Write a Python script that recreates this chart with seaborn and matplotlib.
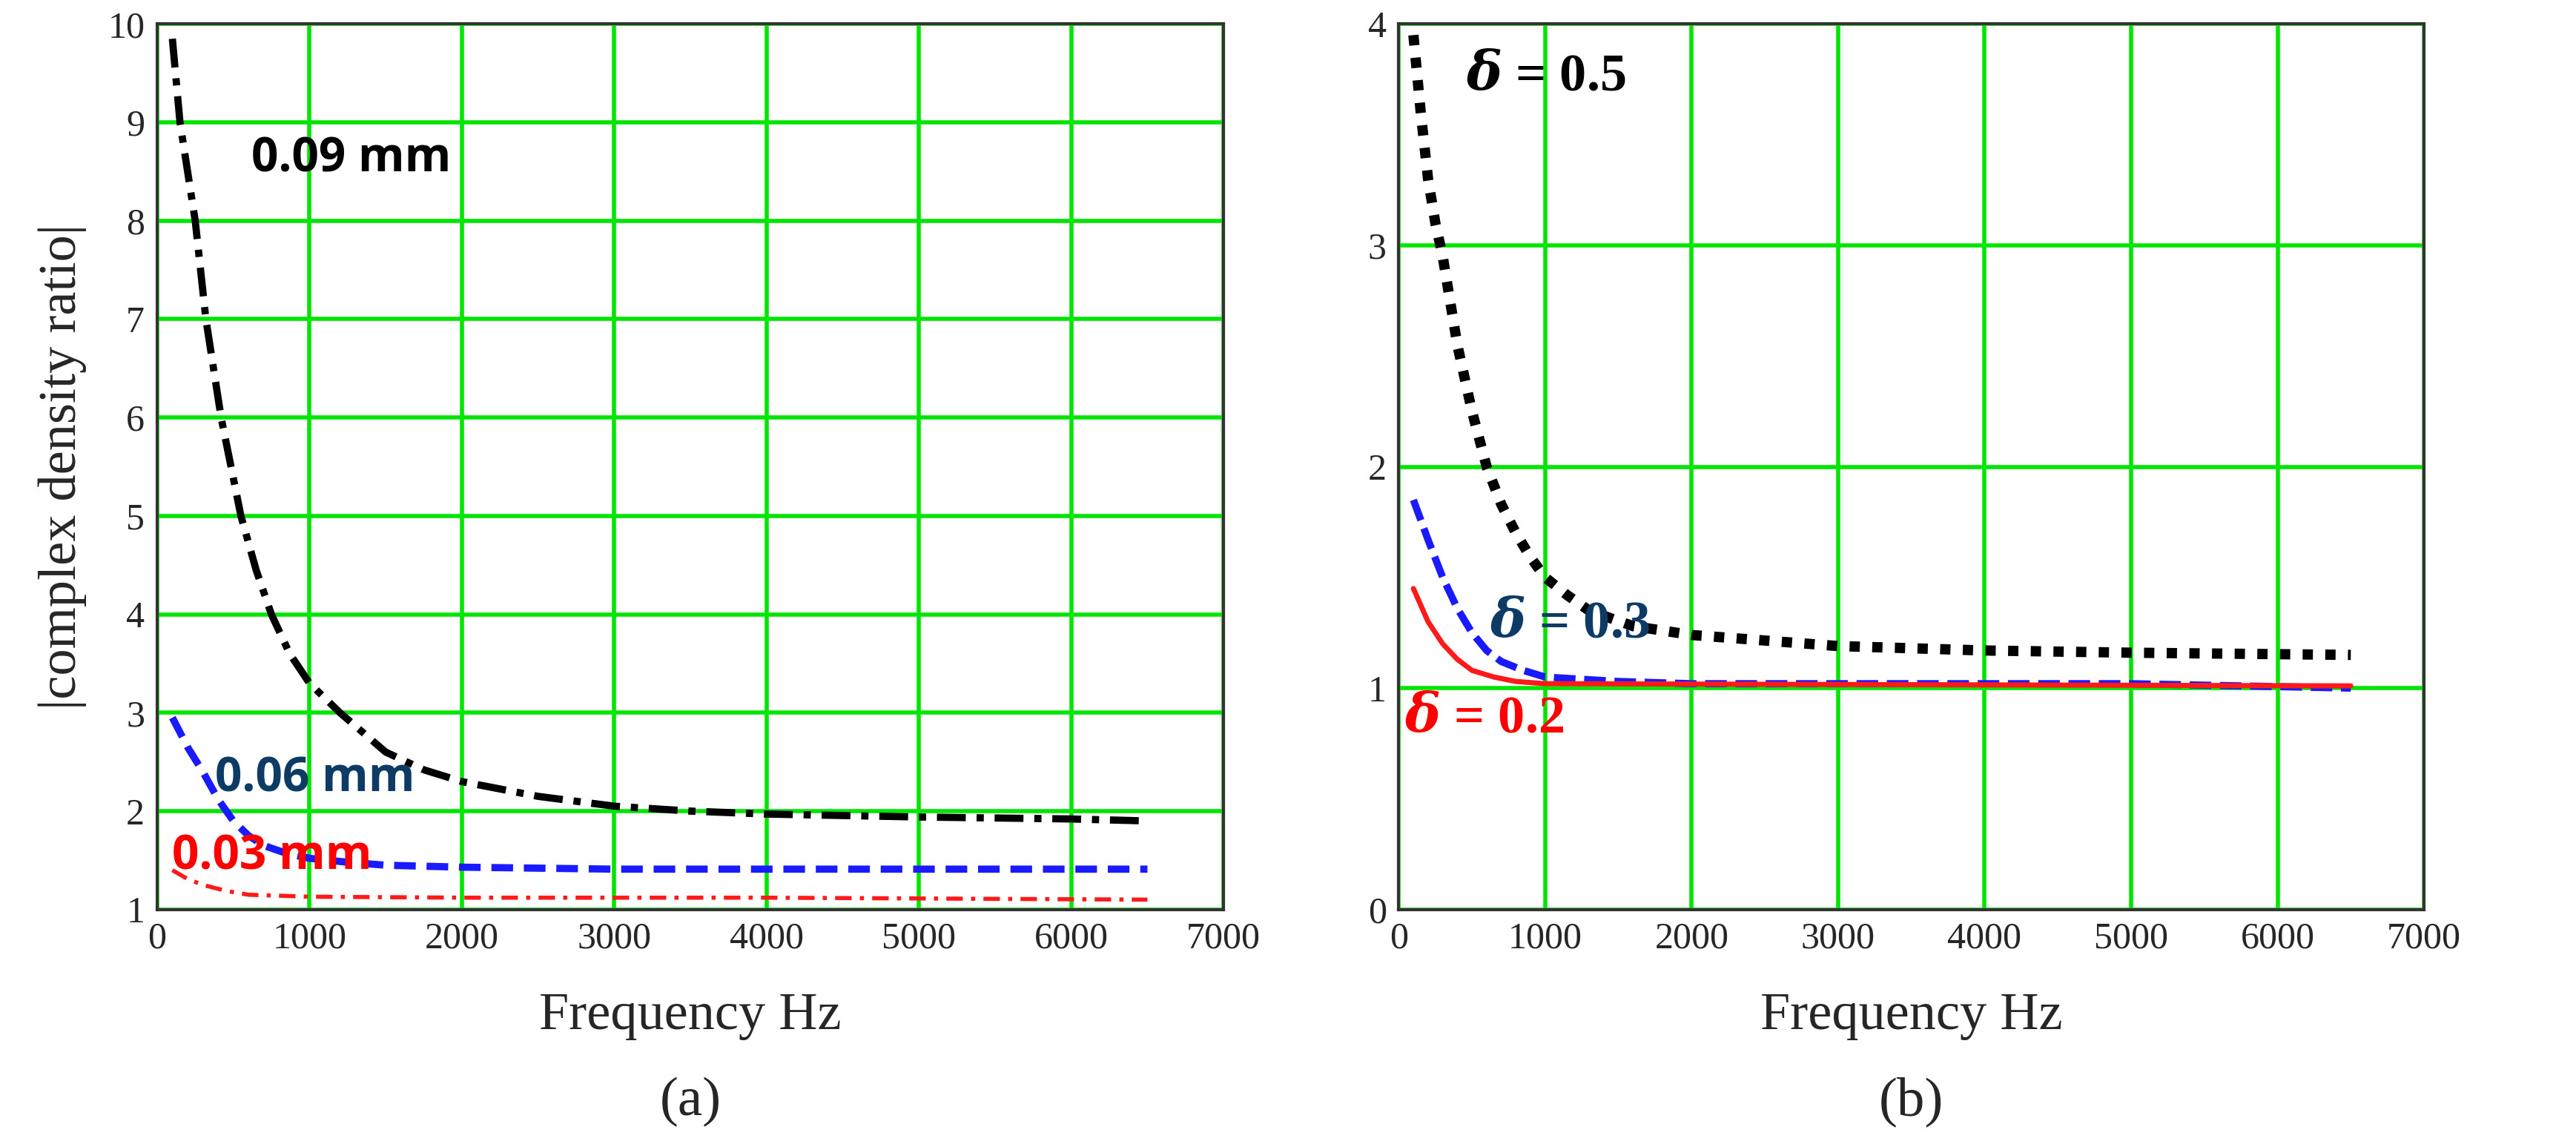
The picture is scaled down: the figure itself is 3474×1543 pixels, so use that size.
import matplotlib
matplotlib.use("Agg")
import matplotlib.pyplot as plt
import seaborn as sns

freq_a_black = [100, 150, 200, 250, 320, 420, 550, 650, 750, 870, 1000, 1200, 1500, 1750, 2000, 2500, 3000, 3500, 4000, 5000, 6000, 6500]
val_a_black = [9.85, 9.0, 8.5, 8.0, 7.0, 6.0, 5.0, 4.45, 4.0, 3.6, 3.3, 3.0, 2.6, 2.42, 2.3, 2.15, 2.05, 2.0, 1.97, 1.94, 1.92, 1.9]
freq_a_blue = [100, 200, 300, 400, 500, 600, 700, 850, 1000, 1250, 1500, 2000, 3000, 6500]
val_a_blue = [2.95, 2.65, 2.4, 2.12, 1.9, 1.75, 1.65, 1.57, 1.52, 1.48, 1.45, 1.43, 1.41, 1.41]
freq_a_red = [100, 200, 300, 450, 600, 800, 1000, 2000, 4000, 6500]
val_a_red = [1.4, 1.31, 1.25, 1.19, 1.15, 1.14, 1.13, 1.12, 1.12, 1.1]

freq_b_black = [100, 150, 200, 250, 300, 400, 500, 600, 700, 800, 900, 1000, 1150, 1300, 1600, 2000, 3000, 4000, 5000, 6500]
val_b_black = [3.95, 3.6, 3.3, 3.1, 2.95, 2.55, 2.25, 2.0, 1.83, 1.7, 1.59, 1.5, 1.42, 1.35, 1.28, 1.24, 1.19, 1.17, 1.16, 1.15]
freq_b_blue = [100, 200, 300, 400, 500, 600, 700, 850, 1000, 1250, 1500, 2000, 5000, 6500]
val_b_blue = [1.85, 1.67, 1.5, 1.36, 1.25, 1.17, 1.12, 1.08, 1.05, 1.04, 1.03, 1.02, 1.02, 1.0]
freq_b_red = [100, 200, 300, 400, 500, 650, 800, 1000, 6500]
val_b_red = [1.45, 1.3, 1.2, 1.13, 1.08, 1.05, 1.03, 1.02, 1.01]

sns.set_style("white")
plt.rcParams['font.family'] = ['Liberation Serif', 'DejaVu Serif']
plt.rcParams['mathtext.fontset'] = 'dejavuserif'

fig = plt.figure(figsize=(34.74, 15.43), dpi=100)
axA = fig.add_axes([0.061, 0.205, 0.414, 0.774])
axB = fig.add_axes([0.543, 0.205, 0.398, 0.774])

GREEN = '#00e600'

def style(ax):
    ax.set_xlim(0, 7000)
    ax.set_xticks(range(0, 7001, 1000))
    ax.grid(True, color=GREEN, lw=4)
    ax.set_axisbelow(True)
    for s in ax.spines.values():
        s.set_color('#333333'); s.set_linewidth(3)
    ax.tick_params(labelsize=36, length=0, pad=12)
    ax.set_xlabel('Frequency Hz', fontsize=52, labelpad=35)

def line(ax, x, y, color, ls, lw):
    sns.lineplot(x=x, y=y, ax=ax, color=color, lw=lw, linestyle=ls)

line(axA, freq_a_black, val_a_black, 'black', (0, (4, 1.5, 1, 1.5)), 7)
line(axA, freq_a_blue, val_a_blue, '#1a1aff', (0, (3, 1.5)), 7)
line(axA, freq_a_red, val_a_red, '#ff1a1a', (0, (4, 2, 1, 2)), 4)
style(axA)
axA.set_ylim(1, 10)
axA.set_yticks(range(1, 11))
axA.set_ylabel('|complex density ratio|', fontsize=52, labelpad=20)
sans = ['Open Sans', 'DejaVu Sans']
axA.text(620, 8.5, '0.09 mm', fontsize=46, fontweight='bold', family=sans, color='black')
axA.text(380, 2.2, '0.06 mm', fontsize=46, fontweight='bold', family=sans, color='#0d3b66')
axA.text(100, 1.41, '0.03 mm', fontsize=46, fontweight='bold', family=sans, color='red')

line(axB, freq_b_black, val_b_black, 'black', (0, (1, 1.2)), 10)
line(axB, freq_b_blue, val_b_blue, '#1a1aff', (0, (3, 1.2)), 7)
line(axB, freq_b_red, val_b_red, '#ff1a1a', '-', 5)
style(axB)
axB.set_ylim(0, 4)
axB.set_yticks(range(0, 5))
axB.set_ylabel('')
axB.text(460, 3.7, r'$\boldsymbol{\delta}$ = 0.5', fontsize=52, fontweight='bold', color='black')
axB.text(620, 1.23, r'$\boldsymbol{\delta}$ = 0.3', fontsize=52, fontweight='bold', color='#0d3b66')
axB.text(40, 0.8, r'$\boldsymbol{\delta}$ = 0.2', fontsize=52, fontweight='bold', color='red')

fig.text(0.268, 0.025, '(a)', fontsize=54, ha='center')
fig.text(0.742, 0.025, '(b)', fontsize=54, ha='center')

fig.savefig('out.png', dpi=100)
